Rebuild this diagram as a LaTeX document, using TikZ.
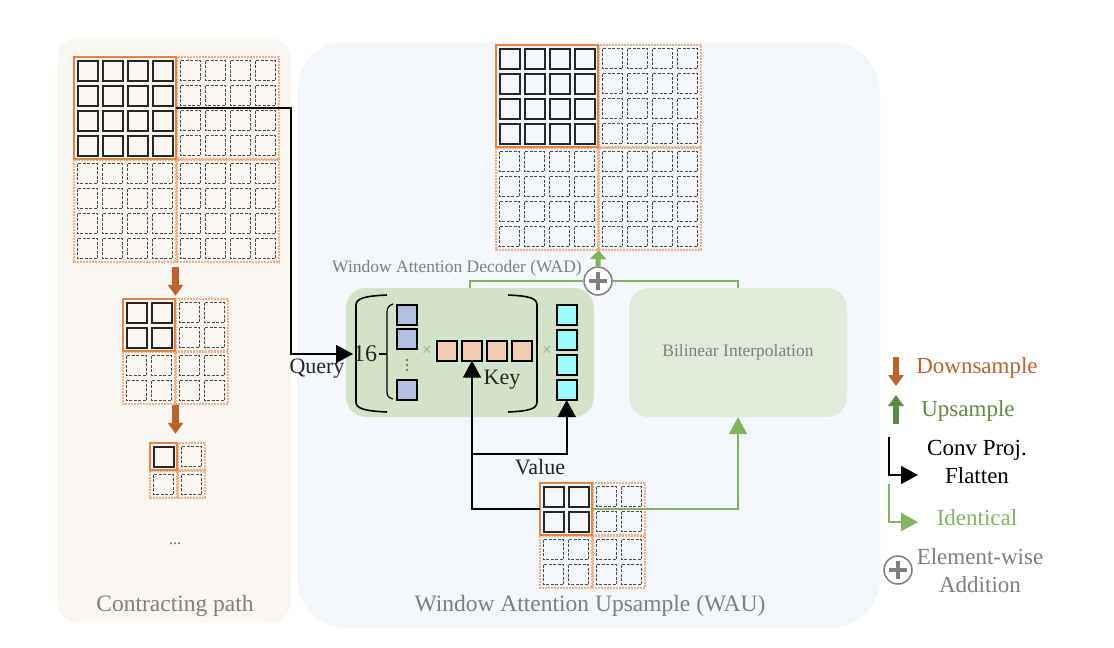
\documentclass[tikz,border=0pt]{standalone}
\usepackage{fontspec}
\setmainfont{Liberation Serif}
\usetikzlibrary{calc, arrows.meta, positioning}
\definecolor{downbrown}{HTML}{C0622B}
\definecolor{upgreen}{HTML}{5E8B3E}
\definecolor{identgreen}{HTML}{82B45E}
\definecolor{quadorange}{HTML}{E9823F}
\definecolor{contractbg}{HTML}{FAF7F3}
\definecolor{waubg}{HTML}{F3F6FA}
\definecolor{attngreen}{HTML}{D3E3C8}
\definecolor{bilgreen}{HTML}{E1EBDA}
\definecolor{qblue}{HTML}{B3BFE0}
\definecolor{kpeach}{HTML}{F4CDB0}
\definecolor{vcyan}{HTML}{9CFCFC}
\definecolor{labelgray}{HTML}{7F7F7F}
\definecolor{dotolive}{HTML}{8C7A2A}

\tikzset{
  idlecell/.style={draw=black!70, line width=1.3pt, dash pattern=on 3pt off 1.5pt},
  activecell/.style={draw=black!85, line width=2pt},
  idlequad/.style={draw=quadorange!65, line width=1.3pt, dash pattern=on 2pt off 1pt},
  activequad/.style={draw=quadorange, line width=1.4pt, inner sep=0pt, outer sep=0pt},
  convproj/.style={draw=black, line width=1.8pt, -{Triangle[length=17pt,width=18pt]}},
  identical/.style={draw=identgreen, line width=1.6pt},
  downarrow/.style={draw=downbrown, line width=6.5pt, -{Triangle[length=11pt,width=15pt]}},
  uparrow/.style={draw=upgreen, line width=6.5pt, -{Triangle[length=11pt,width=15pt]}},
  mainlabel/.style={font=\fontsize{22}{26}\selectfont, text=black!85},
  smalllabel/.style={font=\fontsize{17.5}{21}\selectfont, text=labelgray},
  caption/.style={font=\fontsize{23.5}{28}\selectfont, text=labelgray},
  legendtext/.style={font=\fontsize{23}{28}\selectfont, align=center},
  attnbox/.style={rounded corners=20pt, minimum width=248pt, minimum height=129pt, inner sep=0pt},
  addcircle/.style={circle, draw=labelgray, line width=1.5pt, fill=white, minimum size=28pt, inner sep=0pt},
  plussign/.style={draw=labelgray, line width=4pt},
  sqcell/.style={draw=black, line width=1.6pt, minimum size=20pt, inner sep=0pt, outer sep=0pt},
  bracketline/.style={draw=black, line width=1.6pt},
  timesmark/.style={text=labelgray, font=\fontsize{15}{15}\selectfont\bfseries, inner sep=0pt},
}

% grid of 2x2 windows: name, left, top, cells per window side
\newcommand{\wingrid}[4]{%
  \pgfmathsetmacro{\qsize}{25*#4+2}
  \pgfmathsetmacro{\qstep}{25*#4+3}
  \node[inner sep=0pt, minimum size={\qsize+\qstep}] (#1) at ({#2+(\qsize+\qstep)/2},{#3+(\qsize+\qstep)/2}) {};
  \foreach \qi/\qj in {1/0,0/1,1/1}{
    \draw[idlequad] ({#2+\qi*\qstep},{#3+\qj*\qstep}) rectangle ++(\qsize,\qsize);
    \foreach \ci in {1,...,#4}
      \foreach \cj in {1,...,#4}
        \draw[idlecell] ({#2+\qi*\qstep+3.5+25*(\ci-1)},{#3+\qj*\qstep+3.5+25*(\cj-1)}) rectangle ++(20,20);
  }
  \node[activequad, minimum size=\qsize pt] (#1-a) at ({#2+\qsize/2},{#3+\qsize/2}) {};
  \foreach \ci in {1,...,#4}
    \foreach \cj in {1,...,#4}
      \draw[activecell] ({#2+3.5+25*(\ci-1)},{#3+3.5+25*(\cj-1)}) rectangle ++(20,20);
}

\begin{document}
\begin{tikzpicture}[x=1pt,y=-1pt]
    \useasboundingbox (0,0) rectangle (1114,648);
    \fill[white] (0,0) rectangle (1114,648);

    % panels
    \fill[contractbg, rounded corners=22pt] (57,38) rectangle (291,623);
    \fill[waubg, rounded corners=50pt] (297,42) rectangle (880,628);

    % contracting path
    \wingrid{enc1}{74}{57}{4}
    \wingrid{enc2}{123}{299}{2}
    \wingrid{enc3}{150}{443}{1}
    \draw[downarrow] ($(enc1.south)+(-1,5)$) -- ($(enc2.north)+(0,-3)$);
    \draw[downarrow] ($(enc2.south)+(0,1)$) -- ($(enc3.north)+(-2,-9)$);
    \node[text=black!60, font=\fontsize{16}{16}\selectfont] (more) at (175,544) {...};
    \node[caption] (cpath) at (175,606) {Contracting path};

    % window attention upsample
    \wingrid{dec}{496}{45}{4}
    \wingrid{wau}{540}{483}{2}

    \node[attnbox, fill=attngreen] (wad) at (470,352.5) {};
    \node[attnbox, fill=bilgreen, minimum width=218pt, smalllabel] (bil) at (738,352.5) {Bilinear Interpolation};
    \node[addcircle] (add) at (598,281) {};
    \draw[plussign] ($(add)+(-9,0)$) -- ($(add)+(9,0)$) ($(add)+(0,-9)$) -- ($(add)+(0,9)$);
    \node[smalllabel] (wadlab) at (457,268) {Window Attention Decoder (WAD)};
    \draw[identical] (wad.north) |- (add.west);
    \draw[identical] (bil.north) |- (add.east);
    \draw[uparrow, draw=identgreen, line width=5pt, -{Triangle[length=9pt,width=16pt]}] (add.north) -- (dec.south);

    % brackets
    \draw[bracketline] (387,295) .. controls (366,296) and (356,298) .. (356,305) -- (356,402) .. controls (356,409) and (366,411) .. (387,412);
    \draw[bracketline] (508,295) .. controls (529,296) and (537,298) .. (537,305) -- (537,402) .. controls (537,409) and (529,411) .. (508,412);
    \draw[bracketline, line width=1.2pt] (393,304) .. controls (389,305) and (387,308) .. (387,312) -- (387,392) .. controls (387,396) and (389,398) .. (393,399);
    \draw[bracketline, line width=1.2pt] (379,354) -- (387,354);
    \node[anchor=west, inner sep=0pt, font=\fontsize{24}{24}\selectfont, text=black!85] (n16) at (353,354) {16};

    % query, key, value
    \node[sqcell, fill=qblue] (q1) at (407,315) {};
    \node[sqcell, fill=qblue] (q2) at (407,339) {};
    \node[sqcell, fill=qblue] (q3) at (407,390) {};
    \foreach \dy in {-5,0,5}
        \fill[dotolive] (407,{365+\dy}) circle (1.3);
    \node[timesmark] (t1) at (427,350) {$\times$};
    \foreach \i/\kx in {1/447,2/472,3/497,4/522}
        \node[sqcell, fill=kpeach] (k\i) at (\kx,350.7) {};
    \node[timesmark] (t2) at (547,350) {$\times$};
    \foreach \i/\vy in {1/315,2/340,3/365,4/390}
        \node[sqcell, fill=vcyan] (v\i) at (566.7,\vy) {};

    \coordinate (qbend) at (291,354);
    \draw[convproj] (enc1-a.east) -| (qbend) -- (n16.west);
    \node[mainlabel] (query) at (317,369) {Query};
    \node[mainlabel] (keylab) at (502,380) {Key};

    \draw[convproj] (wau-a.west) -| (k2.south);
    \coordinate (vbranch) at (472,454);
    \draw[convproj] (vbranch) -| (v4.south);
    \node[mainlabel] (value) at (540,467) {Value};

    \draw[identical, -{Triangle[length=17pt,width=18pt]}] (wau-a.east) -| (bil.south);

    \node[caption] (wcap) at (590,606) {Window Attention Upsample (WAU)};

    % legend
    \draw[downarrow] (896,357) -- (896,386);
    \node[legendtext, text=downbrown] (ldown) at (977,368) {Downsample};
    \draw[uparrow] (896,424) -- (896,395);
    \node[legendtext, text=upgreen] (lup) at (968,411) {Upsample};
    \coordinate (lc1) at (889,437);
    \coordinate (lc2) at (918,475);
    \draw[convproj] (lc1) |- (lc2);
    \node[legendtext] (lconv) at (977,462) {Conv Proj.\\Flatten};
    \coordinate (li1) at (889,484);
    \coordinate (li2) at (918,522);
    \draw[identical, -{Triangle[length=17pt,width=18pt]}] (li1) |- (li2);
    \node[legendtext, text=identgreen] (lident) at (977,518) {Identical};
    \node[addcircle] (ladd) at (898,570) {};
    \draw[plussign] ($(ladd)+(-9,0)$) -- ($(ladd)+(9,0)$) ($(ladd)+(0,-9)$) -- ($(ladd)+(0,9)$);
    \node[legendtext, text=labelgray] (laddtext) at (980,571) {Element-wise\\Addition};
\end{tikzpicture}
\end{document}
